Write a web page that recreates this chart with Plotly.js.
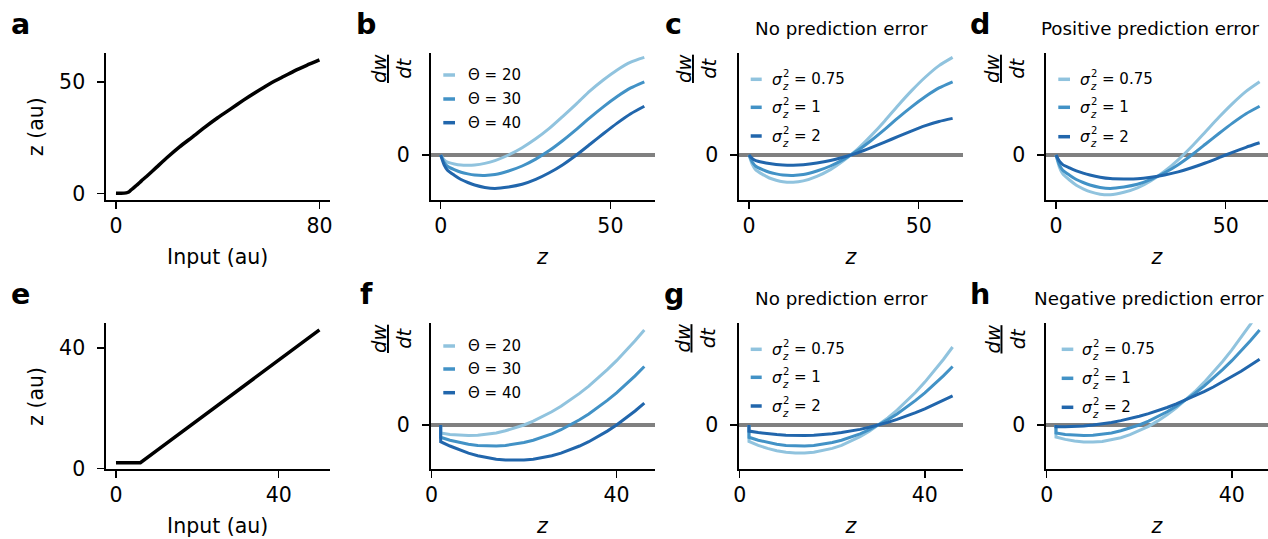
<!DOCTYPE html>
<html><head><meta charset="utf-8">
<script src="https://cdn.plot.ly/plotly-3.0.1.min.js"></script>
<style>html,body{margin:0;padding:0;background:#fff;} #chart{width:1268px;height:539px;}</style>
</head><body><div id="chart"></div>
<script>
// ---------------- data ----------------
// panel a: input -> z (saturating)
const inputA = [0, 2, 4, 5, 6, 8, 10, 12, 16, 20, 25, 30, 35, 40, 45, 50, 55, 60, 65, 70, 75, 80];
const zA     = [0, 0, 0.2, 0.6, 1.6, 3.5, 5.6, 7.6, 11.8, 16.0, 20.9, 25.3, 29.8, 34.0, 37.9, 41.8, 45.5, 49.0, 52.0, 55.0, 57.6, 60.0];
// panel e: input -> z (threshold-linear)
const inputE = [0, 2, 4, 6, 10, 20, 30, 40, 50];
const zE     = [2, 2, 2, 2, 6, 16, 26, 36, 46];

// top row dw/dt vs z (arbitrary units)
const zTop = [0, 1, 2, 4, 6, 8, 10, 13, 16, 20, 24, 28, 32, 36, 40, 44, 48, 52, 56, 60];
const bTheta20 = [0, -4.8, -7.2, -9.0, -10.1, -10.3, -10.0, -8.4, -5.6, 0, 7.3, 16.2, 26.6, 38.7, 51.2, 64.1, 75.3, 85.1, 92.9, 97.6];
const bTheta30 = [0, -7.3, -11.2, -14.6, -17.3, -18.9, -20.0, -20.4, -19.5, -16.0, -11.0, -4.1, 4.4, 14.5, 25.6, 37.4, 48.4, 58.5, 67.1, 73.2];
const bTheta40 = [0, -9.8, -15.2, -20.2, -24.5, -27.5, -30.0, -32.4, -33.4, -32.0, -29.3, -24.4, -17.8, -9.7, 0, 10.7, 21.5, 31.9, 41.3, 48.8];
const cSig075 = [0, -9.7, -14.9, -19.4, -23.0, -25.2, -26.7, -27.2, -25.9, -21.3, -14.6, -5.4, 5.9, 19.4, 34.1, 49.8, 64.6, 78.0, 89.4, 97.6];
const cSig1   = [0, -7.3, -11.2, -14.6, -17.3, -18.9, -20.0, -20.4, -19.5, -16.0, -11.0, -4.1, 4.4, 14.5, 25.6, 37.4, 48.4, 58.5, 67.1, 73.2];
const cSig2   = [0, -3.6, -5.6, -7.3, -8.6, -9.5, -10.0, -10.2, -9.7, -8.0, -5.5, -2.0, 2.2, 7.3, 12.8, 18.7, 24.2, 29.3, 33.5, 36.6];
const dSig075 = [0, -12.2, -18.9, -25.0, -30.2, -33.8, -36.7, -39.2, -39.8, -37.3, -32.9, -25.7, -16.3, -4.8, 8.5, 23.1, 37.7, 51.4, 63.6, 73.2];
const dSig1   = [0, -9.8, -15.2, -20.2, -24.5, -27.5, -30.0, -32.4, -33.4, -32.0, -29.3, -24.4, -17.8, -9.7, 0, 10.7, 21.5, 31.9, 41.3, 48.8];
const dSig2   = [0, -6.1, -9.6, -12.9, -15.8, -18.1, -20.0, -22.2, -23.6, -24.0, -23.8, -22.3, -20.0, -16.9, -12.8, -8.0, -2.7, 2.7, 7.7, 12.2];

// bottom row dw/dt vs z (arbitrary units)
const zBot = [2, 2, 4, 6, 8, 10, 12, 14, 16, 18, 20, 22, 24, 26, 28, 30, 32, 34, 36, 38, 40, 42, 44, 46];
const fTheta20 = [0, -7.9, -9.4, -10.2, -10.5, -10.2, -9.4, -7.9, -5.8, -3.2, 0, 3.8, 8.2, 13.2, 18.7, 24.9, 31.6, 38.9, 46.8, 55.3, 64.3, 74.0, 84.2, 95.0];
const fTheta30 = [0, -12.3, -15.2, -17.5, -19.3, -20.5, -21.0, -21.0, -20.5, -19.3, -17.5, -15.2, -12.3, -8.8, -4.7, 0, 5.3, 11.1, 17.5, 24.6, 32.2, 40.3, 49.1, 58.5];
const fTheta40 = [0, -16.7, -21.0, -24.9, -28.1, -30.7, -32.7, -34.2, -35.1, -35.4, -35.1, -34.2, -32.7, -30.7, -28.1, -24.9, -21.0, -16.7, -11.7, -6.1, 0, 6.7, 14.0, 21.9];
const gSig075 = [0, -16.4, -20.3, -23.4, -25.7, -27.3, -28.1, -28.1, -27.3, -25.7, -23.4, -20.3, -16.4, -11.7, -6.2, 0, 7.0, 14.8, 23.4, 32.7, 42.9, 53.8, 65.5, 78.0];
const gSig1   = [0, -12.3, -15.2, -17.5, -19.3, -20.5, -21.0, -21.0, -20.5, -19.3, -17.5, -15.2, -12.3, -8.8, -4.7, 0, 5.3, 11.1, 17.5, 24.6, 32.2, 40.3, 49.1, 58.5];
const gSig2   = [0, -6.1, -7.6, -8.8, -9.6, -10.2, -10.5, -10.5, -10.2, -9.6, -8.8, -7.6, -6.1, -4.4, -2.3, 0, 2.6, 5.6, 8.8, 12.3, 16.1, 20.2, 24.6, 29.2];
const hSig075 = [0, -12.0, -14.4, -16.1, -17.0, -17.1, -16.4, -14.9, -12.7, -9.6, -5.8, -1.3, 4.1, 10.2, 17.2, 24.9, 33.3, 42.6, 52.6, 63.5, 75.1, 87.4, 100.6, 114.5];
const hSig1   = [0, -7.9, -9.4, -10.2, -10.5, -10.2, -9.4, -7.9, -5.8, -3.2, 0, 3.8, 8.2, 13.2, 18.7, 24.9, 31.6, 38.9, 46.8, 55.3, 64.3, 74.0, 84.2, 95.0];
const hSig2   = [0, -1.8, -1.8, -1.5, -0.9, 0, 1.2, 2.6, 4.4, 6.4, 8.8, 11.4, 14.3, 17.5, 21.1, 24.9, 29.0, 33.3, 38.0, 43.0, 48.3, 53.8, 59.7, 65.8];

const thetaLabels = ['Θ = 20', 'Θ = 30', 'Θ = 40'];
const sigmaValues = ['0.75', '1', '2'];
const panelLetters = ['a', 'b', 'c', 'd', 'e', 'f', 'g', 'h'];
const panelTitles = ['No prediction error', 'Positive prediction error', 'No prediction error', 'Negative prediction error'];

// ---------------- styling / layout ----------------
const W = 1268, H = 539;
const FONT = 'DejaVu Sans, sans-serif';
const BLUES = ['#90c3de', '#4292c6', '#2166ac'];
const cols = [[105.8, 329.6], [430.5, 654.5], [738.8, 962.8], [1045.8, 1268]];
const rows = [[53.3, 200], [323.3, 469.3]];
const PX = x => x / W, PY = y => 1 - y / H;
const xd = c => [PX(cols[c][0]), Math.min(1, PX(cols[c][1]))];
const yd = r => [PY(rows[r][1]), PY(rows[r][0])];

const baseAxis = {
  showline: true, linecolor: '#000', linewidth: 1.5,
  ticks: 'outside', ticklen: 7, tickwidth: 1.5, tickcolor: '#000',
  showgrid: false, zeroline: false, automargin: false, fixedrange: true,
  tickfont: {family: FONT, size: 20.5, color: '#000'}
};
const titleFont = {family: FONT, size: 20.5, color: '#000'};

const panels = [
  {id: '',  c: 0, r: 0, xr: [-4, 84],   yr: [-3, 63],      xt: [0, 80], yt: [0, 50], xtitle: 'Input (au)', ytitle: 'z (au)'},
  {id: '2', c: 1, r: 0, xr: [-3, 63],   yr: [-45, 101.7],  xt: [0, 50], yt: [0], xtitle: '<i>z</i>', dw: true},
  {id: '3', c: 2, r: 0, xr: [-3, 63],   yr: [-45, 101.7],  xt: [0, 50], yt: [0], xtitle: '<i>z</i>', dw: true},
  {id: '4', c: 3, r: 0, xr: [-3, 62.47], yr: [-45, 101.7], xt: [0, 50], yt: [0], xtitle: '<i>z</i>', dw: true},
  {id: '5', c: 0, r: 1, xr: [-2.5, 52.5], yr: [-0.2, 48.2], xt: [0, 40], yt: [0, 40], xtitle: 'Input (au)', ytitle: 'z (au)'},
  {id: '6', c: 1, r: 1, xr: [-0.2, 48.2], yr: [-44.3, 101.7], xt: [0, 40], yt: [0], xtitle: '<i>z</i>', dw: true},
  {id: '7', c: 2, r: 1, xr: [-0.2, 48.2], yr: [-44.3, 101.7], xt: [0, 40], yt: [0], xtitle: '<i>z</i>', dw: true},
  {id: '8', c: 3, r: 1, xr: [-0.2, 47.81], yr: [-44.3, 101.7], xt: [0, 40], yt: [0], xtitle: '<i>z</i>', dw: true}
];

const layout = {
  width: W, height: H, margin: {l: 0, r: 0, t: 0, b: 0},
  paper_bgcolor: '#fff', plot_bgcolor: '#fff', showlegend: false,
  font: {family: FONT, color: '#000'},
  annotations: [], shapes: []
};
panels.forEach(p => {
  layout['xaxis' + p.id] = Object.assign({}, baseAxis, {
    domain: xd(p.c), range: p.xr, tickvals: p.xt, anchor: 'y' + p.id,
    ticklabelstandoff: 0,
    title: {text: p.xtitle, font: titleFont, standoff: 12}
  });
  const ya = Object.assign({}, baseAxis, {
    domain: yd(p.r), range: p.yr, tickvals: p.yt, anchor: 'x' + p.id,
    ticklabelstandoff: 8
  });
  if (p.dw) {
    Object.assign(ya, {zeroline: true, zerolinecolor: '#808080', zerolinewidth: 3.5});
  } else {
    ya.title = {text: p.ytitle, font: titleFont, standoff: 10};
  }
  layout['yaxis' + p.id] = ya;
});

// traces
const data = [];
function addLine(id, x, y, color, width, name, shape) {
  data.push({type: 'scatter', mode: 'lines', x: x, y: y, xaxis: 'x' + id, yaxis: 'y' + id,
             name: name, line: {color: color, width: width, shape: shape || 'linear', smoothing: 0.6},
             hoverinfo: 'skip'});
}
addLine('', inputA, zA, '#000', 3.5, 'z', 'spline');
addLine('5', inputE, zE, '#000', 3.5, 'z');
const sigmaNames = sigmaValues.map(v => 'σ_z^2 = ' + v);
[[bTheta20, bTheta30, bTheta40], [cSig075, cSig1, cSig2], [dSig075, dSig1, dSig2]].forEach((set, k) => {
  const labs = k === 0 ? thetaLabels : sigmaNames;
  set.forEach((ys, i) => addLine(String(k + 2), zTop, ys, BLUES[i], 3, labs[i], 'spline'));
});
[[fTheta20, fTheta30, fTheta40], [gSig075, gSig1, gSig2], [hSig075, hSig1, hSig2]].forEach((set, k) => {
  const labs = k === 0 ? thetaLabels : sigmaNames;
  set.forEach((ys, i) => addLine(String(k + 6), zBot, ys, BLUES[i], 3, labs[i]));
});

function ann(text, x, y, size, opts) {
  layout.annotations.push(Object.assign({
    text: text, x: PX(x), y: PY(y), xref: 'paper', yref: 'paper',
    xanchor: 'left', yanchor: 'middle', showarrow: false,
    font: {family: FONT, size: size, color: '#000'}
  }, opts || {}));
}
// panel letters
const letterPos = [[9, 24.5], [354, 24.5], [663, 24.5], [968, 24.5], [9, 294.5], [358, 294.5], [662, 294.5], [968, 294.5]];
panelLetters.forEach((L, i) => ann('<b>' + L + '</b>', letterPos[i][0], letterPos[i][1], 28.5));
// panel titles
const titlePos = [[841.5, 28.5], [1150, 28.5], [841.5, 298.5], [1149, 298.5]];
panelTitles.forEach((t, i) => ann(t, titlePos[i][0], titlePos[i][1], 18.3, {xanchor: 'center'}));
// dw/dt labels
const dwPos = [[392, 69], [697, 69], [1005, 69], [392, 339], [695.5, 339], [1005.5, 339]];
dwPos.forEach(p => ann('<i><u>dw</u></i><br><i>dt</i>', p[0], p[1], 19.5, {textangle: -90, xanchor: 'center'}));

// in-panel legends
const legends = [
  {kx: [443.3, 455], tx: 466.7, ys: [75, 99, 122.7], kind: 'theta'},
  {kx: [750.7, 761.7], tx: 771.7, ys: [79.3, 107.3, 136], kind: 'sigma'},
  {kx: [1058.3, 1070], tx: 1080, ys: [79.3, 107.3, 136.7], kind: 'sigma'},
  {kx: [443.3, 455], tx: 466.7, ys: [346, 369, 392.7], kind: 'theta'},
  {kx: [750.7, 761.7], tx: 771.7, ys: [349.3, 377.3, 406], kind: 'sigma'},
  {kx: [1061.7, 1073.3], tx: 1081.7, ys: [349.3, 378.3, 407.3], kind: 'sigma'}
];
legends.forEach(lg => [0, 1, 2].forEach(i => {
  const y = lg.ys[i];
  layout.shapes.push({type: 'line', xref: 'paper', yref: 'paper',
    x0: PX(lg.kx[0]), x1: PX(lg.kx[1]), y0: PY(y), y1: PY(y),
    line: {color: BLUES[i], width: 3.5}});
  if (lg.kind === 'theta') {
    ann(thetaLabels[i], lg.tx - 1, y, 15);
  } else {
    // sigma_z^2 with stacked super/subscript, like the reference
    ann('<i>σ</i>', lg.tx - 2, y + 0.5, 15.5);
    ann('2<br><i>z</i>', lg.tx + 8, y + 0.5, 10, {align: 'left'});
    ann('= ' + sigmaValues[i], lg.tx + 20, y, 15);
  }
}));

Plotly.newPlot('chart', data, layout, {displayModeBar: false, staticPlot: true});
</script></body></html>
